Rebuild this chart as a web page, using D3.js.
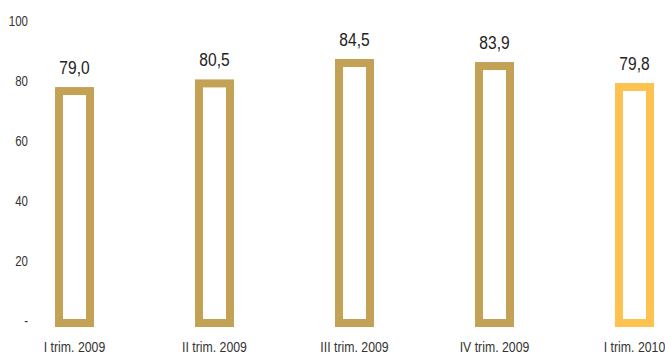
<!DOCTYPE html>
<html><head><meta charset="utf-8">
<script src="https://cdn.jsdelivr.net/npm/d3@7"></script>
<style>
html,body{margin:0;padding:0;background:#fff;}
text{font-family:"Liberation Sans","Arial",sans-serif;}
</style></head>
<body>
<svg id="chart" width="665" height="354"></svg>
<script>
const categories = ["I trim. 2009", "II trim. 2009", "III trim. 2009", "IV trim. 2009", "I trim. 2010"];
const values = [79.0, 80.5, 84.5, 83.9, 79.8];
const valueLabels = ["79,0", "80,5", "84,5", "83,9", "79,8"];
const tickValues = [0, 20, 40, 60, 80, 100];
const tickLabels = ["-", "20", "40", "60", "80", "100"];
const barColors = ["#C3A155", "#C3A155", "#C3A155", "#C3A155", "#FDC24F"];

const svg = d3.select("#chart");
const sw = 8;
const narrow = 0.82;

const x = d3.scalePoint().domain(categories).range([74.5, 634.5]);
// axis label scale
const yAxis = d3.scaleLinear().domain([0, 100]).range([321, 21]);
// bar scale (bars in the original are drawn on a truncated base)
const yBar = d3.scaleLinear().domain([32, 84.5]).range([327, 59]);

function place(sel, fx, fy) {
  sel.attr("transform", (d, i) => `translate(${fx(d, i)},${fy(d, i)}) scale(${narrow},1)`);
}

// y tick labels
svg.append("g").selectAll("text").data(tickValues).join("text")
  .call(place, () => 28, d => yAxis(d))
  .attr("dy", "0.35em")
  .attr("text-anchor", "end").attr("font-size", 14).attr("fill", "#333")
  .text((d, i) => tickLabels[i]);

const barW = 39;
const g = svg.append("g");
g.selectAll("rect").data(values).join("rect")
  .attr("x", (d, i) => x(categories[i]) - barW / 2 + sw / 2)
  .attr("width", barW - sw)
  .attr("y", d => yBar(d) + sw / 2)
  .attr("height", d => yBar(32) - yBar(d) - sw)
  .attr("fill", "#fff")
  .attr("stroke", (d, i) => barColors[i])
  .attr("stroke-width", sw);

g.selectAll("text.val").data(values).join("text").attr("class", "val")
  .call(place, (d, i) => x(categories[i]), d => yBar(d) - 13)
  .attr("text-anchor", "middle").attr("font-size", 19).attr("fill", "#222")
  .text((d, i) => valueLabels[i]);

svg.append("g").selectAll("text").data(categories).join("text")
  .call(place, d => x(d), () => 352)
  .attr("text-anchor", "middle").attr("font-size", 15).attr("fill", "#333")
  .text(d => d);
</script>
</body></html>
